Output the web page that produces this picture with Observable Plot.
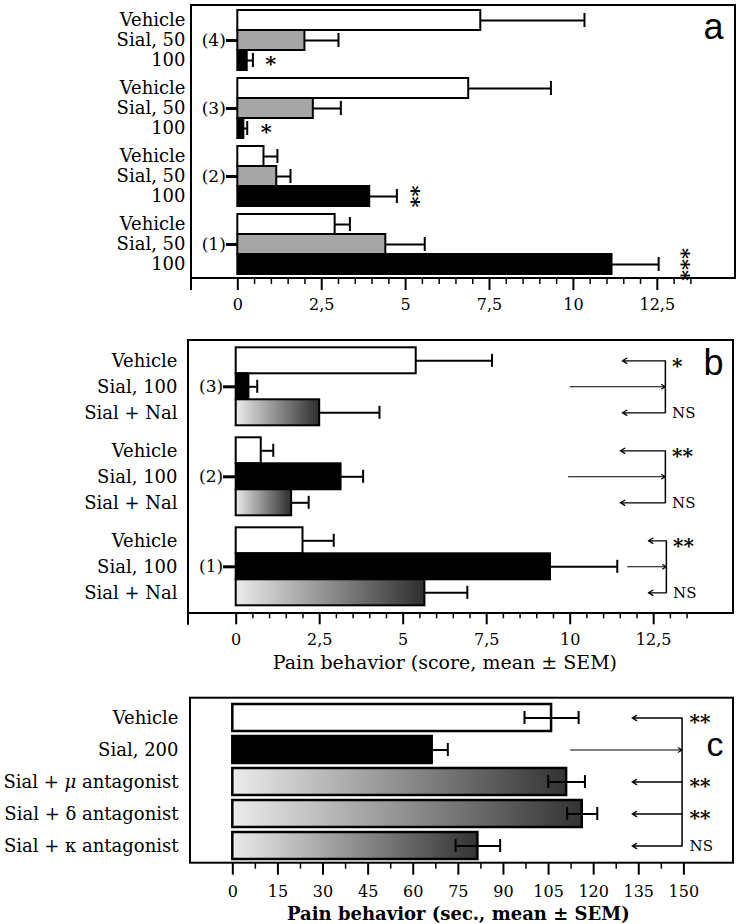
<!DOCTYPE html>
<html><head><meta charset="utf-8">
<script src="https://cdn.jsdelivr.net/npm/d3@7"></script>
<script src="https://cdn.jsdelivr.net/npm/@observablehq/plot@0.6"></script>
<style>
body{margin:0;background:#fff;}
#root{position:relative;width:740px;height:924px;overflow:hidden;}
#root svg{position:absolute;left:0;}
</style></head><body><div id="root"></div>
<script>
// ---------- Panel a ----------
const groupsA = ["(4)", "(3)", "(2)", "(1)"];
const rowsA = ["Vehicle", "Sial, 50", "100"];
const aVehicleMean = [7.24, 6.88, 0.78, 2.90];
const aVehicleSem  = [3.09, 2.45, 0.40, 0.44];
const aSial50Mean  = [2.00, 2.25, 1.16, 4.41];
const aSial50Sem   = [1.00, 0.82, 0.41, 1.16];
const aSial100Mean = [0.28, 0.18, 3.93, 11.15];
const aSial100Sem  = [0.17, 0.10, 0.81, 1.39];
const aStars = ["*", "*", "**", "***"];
const aStarX = [0.98, 0.85, 5.36, 13.4];
const aTicks = [0, 2.5, 5, 7.5, 10, 12.5];

// ---------- Panel b ----------
const groupsB = ["(3)", "(2)", "(1)"];
const rowsB = ["Vehicle", "Sial, 100", "Sial + Nal"];
const bVehicleMean = [5.39, 0.75, 2.00];
const bVehicleSem  = [2.27, 0.36, 0.92];
const bSialMean    = [0.38, 3.14, 9.41];
const bSialSem     = [0.25, 0.66, 2.00];
const bNalMean     = [2.50, 1.66, 5.65];
const bNalSem      = [1.79, 0.51, 1.27];
const bSigTop = ["*", "**", "**"];
const bSigBottom = ["NS", "NS", "NS"];
const bBracketX = [12.85, 12.85, 12.88];
const bLeftTipX = [11.56, 11.50, 12.34];
const bRightFromX = [10.0, 9.95, 11.72];
const bTicks = [0, 2.5, 5, 7.5, 10, 12.5];

// ---------- Panel c ----------
const rowsC = ["Vehicle", "Sial, 200", "Sial + μ antagonist", "Sial + δ antagonist", "Sial + κ antagonist"];
const cMean = [106, 66.3, 111, 116.2, 81.5];
const cSem  = [9, 5.2, 6.1, 5, 7.4];
const cSig  = ["**", "", "**", "**", "NS"];
const cBracketX = 149.4;
const cLeftTipX = 132.8;
const cRightFromX = 112.3;
const cTicks = [0, 15, 30, 45, 60, 75, 90, 105, 120, 135, 150];

const FONT = "DejaVu Serif";
const comma = d => String(d).replace(".", ",");
const root = document.getElementById("root");

function addGradient(svg, id, c0, c1) {
  const defs = d3.select(svg).insert("defs", ":first-child");
  const g = defs.append("linearGradient").attr("id", id)
    .attr("x1", 0).attr("x2", 1).attr("y1", 0).attr("y2", 0);
  g.append("stop").attr("offset", 0).attr("stop-color", c0);
  g.append("stop").attr("offset", 1).attr("stop-color", c1);
}
function addFrame(svg, x, y, w, h) {
  d3.select(svg).append("rect").attr("x", x).attr("y", y).attr("width", w).attr("height", h)
    .attr("fill", "none").attr("stroke", "black").attr("stroke-width", 2);
}

// ===== Build panel a =====
{
  const data = [];
  groupsA.forEach((g, i) => {
    data.push({group: g, row: rowsA[0], kind: 0, mean: aVehicleMean[i], sem: aVehicleSem[i]});
    data.push({group: g, row: rowsA[1], kind: 1, mean: aSial50Mean[i], sem: aSial50Sem[i]});
    data.push({group: g, row: rowsA[2], kind: 2, mean: aSial100Mean[i], sem: aSial100Sem[i]});
  });
  const stars = groupsA.map((g, i) => ({group: g, s: aStars[i], x: aStarX[i], rot: aStars[i].length > 1}));
  const minor = d3.range(0.5, 13.6, 0.5).filter(v => !aTicks.includes(v));
  const H = 320, mT = 10, mB = 46, mL = 191, mR = 5;
  const svg = Plot.plot({
    width: 740, height: H, marginLeft: mL, marginRight: mR, marginTop: mT, marginBottom: mB,
    style: {fontFamily: FONT, fontSize: "18px", color: "black", background: "white"},
    x: {domain: [-1.38, 14.83], label: null},
    y: {domain: rowsA, padding: 0, tickSize: 0, tickPadding: 6, label: null},
    fy: {domain: groupsA, paddingInner: 8 / 68, paddingOuter: 0, axis: null, label: null},
    marks: [
      Plot.barX(data.filter(d => d.kind === 0), {x: "mean", y: "row", fy: "group", fill: "white", stroke: "black", strokeWidth: 2}),
      Plot.barX(data.filter(d => d.kind === 1), {x: "mean", y: "row", fy: "group", fill: "#a6a6a6", stroke: "black", strokeWidth: 2}),
      Plot.barX(data.filter(d => d.kind === 2), {x: "mean", y: "row", fy: "group", fill: "black", stroke: "black", strokeWidth: 2}),
      Plot.ruleY(data, {y: "row", fy: "group", x1: "mean", x2: d => d.mean + d.sem, strokeWidth: 2}),
      Plot.tickX(data, {x: d => d.mean + d.sem, y: "row", fy: "group", insetTop: 3, insetBottom: 3, strokeWidth: 2}),
      Plot.ruleY(groupsA, {fy: d => d, y: () => rowsA[1], x1: -0.34, x2: 0, strokeWidth: 3}),
      Plot.text(groupsA, {fy: d => d, y: () => rowsA[1], x: 0, text: d => d, textAnchor: "end", dx: -12, fontSize: 17}),
      Plot.text(stars.filter(d => !d.rot), {fy: "group", y: () => rowsA[2], x: "x", text: "s", fontSize: 21, fontWeight: "bold", dy: 4}),
      Plot.text(stars.filter(d => d.rot), {fy: "group", y: () => rowsA[2], x: "x", text: "s", fontSize: 21, fontWeight: "bold", rotate: 90, dx: -6}),
      Plot.text(["a"], {fy: () => groupsA[0], frameAnchor: "top-right", text: d => d, fontFamily: "Liberation Sans", fontSize: 36, textAnchor: "end", lineAnchor: "middle", dx: -12, dy: 17}),
      Plot.axisX({ticks: aTicks, tickSize: 12, tickFormat: comma, tickPadding: 8, dy: 4, fontSize: 16, strokeWidth: 2}),
      Plot.axisX({ticks: minor, tickSize: 6, tickFormat: () => "", dy: 4, strokeWidth: 1.5})
    ]
  });
  svg.style.top = "0px";
  root.appendChild(svg);
  addFrame(svg, mL, mT - 5, 740 - mL - mR, H - mT - mB + 9);
  d3.select(svg).append("line").attr("x1", mL).attr("x2", mL).attr("y1", H - mB + 4).attr("y2", H - mB + 16).attr("stroke", "black").attr("stroke-width", 2);
}

// ===== Build panel b =====
{
  const data = [];
  groupsB.forEach((g, i) => {
    data.push({group: g, row: rowsB[0], kind: 0, mean: bVehicleMean[i], sem: bVehicleSem[i]});
    data.push({group: g, row: rowsB[1], kind: 1, mean: bSialMean[i], sem: bSialSem[i]});
    data.push({group: g, row: rowsB[2], kind: 2, mean: bNalMean[i], sem: bNalSem[i]});
  });
  const ann = groupsB.map((g, i) => ({group: g, bx: bBracketX[i], lt: bLeftTipX[i], rf: bRightFromX[i], top: bSigTop[i], bot: bSigBottom[i]}));
  const minor = d3.range(0.5, 13.6, 0.5).filter(v => !bTicks.includes(v));
  const H = 345, mT = 16.7, mB = 68.3, mL = 188, mR = 7;
  const svg = Plot.plot({
    width: 740, height: H, marginLeft: mL, marginRight: mR, marginTop: mT, marginBottom: mB,
    style: {fontFamily: FONT, fontSize: "18px", color: "black", background: "white"},
    x: {domain: [-1.428, 14.89], label: null},
    y: {domain: rowsB, padding: 0, tickSize: 0, tickPadding: 11, label: null},
    fy: {domain: groupsB, paddingInner: 0.1176, paddingOuter: 0, axis: null, label: null},
    marks: [
      Plot.barX(data.filter(d => d.kind === 0), {x: "mean", y: "row", fy: "group", fill: "white", stroke: "black", strokeWidth: 2}),
      Plot.barX(data.filter(d => d.kind === 1), {x: "mean", y: "row", fy: "group", fill: "black", stroke: "black", strokeWidth: 2}),
      Plot.barX(data.filter(d => d.kind === 2), {x: "mean", y: "row", fy: "group", fill: "url(#gradB)", stroke: "black", strokeWidth: 2}),
      Plot.ruleY(data, {y: "row", fy: "group", x1: "mean", x2: d => d.mean + d.sem, strokeWidth: 2}),
      Plot.tickX(data, {x: d => d.mean + d.sem, y: "row", fy: "group", insetTop: 6.5, insetBottom: 6.5, strokeWidth: 2}),
      Plot.ruleY(groupsB, {fy: d => d, y: () => rowsB[1], x1: -0.38, x2: 0, strokeWidth: 3}),
      Plot.text(groupsB, {fy: d => d, y: () => rowsB[1], x: 0, text: d => d, textAnchor: "end", dx: -13, fontSize: 17}),
      Plot.link(ann, {fy: "group", x1: "bx", x2: "bx", y1: () => rowsB[0], y2: () => rowsB[2], strokeWidth: 1.5}),
      Plot.arrow(ann, {fy: "group", x1: "bx", x2: "lt", y1: () => rowsB[0], y2: () => rowsB[0], strokeWidth: 1.3, headLength: 6}),
      Plot.arrow(ann, {fy: "group", x1: "bx", x2: "lt", y1: () => rowsB[2], y2: () => rowsB[2], strokeWidth: 1.3, headLength: 6}),
      Plot.arrow(ann, {fy: "group", x1: "rf", x2: "bx", y1: () => rowsB[1], y2: () => rowsB[1], strokeWidth: 1.1, headLength: 6}),
      Plot.text(ann, {fy: "group", x: d => d.bx + 0.2, y: () => rowsB[0], text: "top", textAnchor: "start", fontSize: 20, fontWeight: "bold", dy: 6}),
      Plot.text(ann, {fy: "group", x: d => d.bx + 0.2, y: () => rowsB[2], text: "bot", textAnchor: "start", fontSize: 15}),
      Plot.text(["b"], {fy: () => groupsB[0], frameAnchor: "top-right", text: d => d, fontFamily: "Liberation Sans", fontSize: 36, textAnchor: "end", lineAnchor: "middle", dx: -10, dy: 16}),
      Plot.axisX({ticks: bTicks, tickSize: 12, tickFormat: comma, tickPadding: 9, dy: 6.3, fontSize: 16, strokeWidth: 2}),
      Plot.axisX({ticks: minor, tickSize: 6, tickFormat: () => "", dy: 6.3, strokeWidth: 1.5}),
      Plot.text(["Pain behavior (score, mean ± SEM)"], {fy: () => groupsB[2], x: () => 6.25, frameAnchor: "bottom", text: d => d, fontSize: 19, dy: 62})
    ]
  });
  svg.style.top = "330px";
  root.appendChild(svg);
  addGradient(svg, "gradB", "#ebebeb", "#2e2e2e");
  addFrame(svg, mL, mT - 6.7, 740 - mL - mR, H - mT - mB + 13);
  d3.select(svg).append("line").attr("x1", mL).attr("x2", mL).attr("y1", H - mB + 6).attr("y2", H - mB + 18).attr("stroke", "black").attr("stroke-width", 2);
}

// ===== Build panel c =====
{
  const data = rowsC.map((r, i) => ({row: r, kind: i === 0 ? 0 : i === 1 ? 1 : 2, mean: cMean[i], sem: cSem[i], sig: cSig[i]}));
  const minor = cTicks.slice(0, -1).map(v => v + 7.5);
  const H = 249, mT = 26.7, mB = 63, mL = 190, mR = 7;
  const svg = Plot.plot({
    width: 740, height: H, marginLeft: mL, marginRight: mR, marginTop: mT, marginBottom: mB,
    style: {fontFamily: FONT, fontSize: "18px", color: "black", background: "white"},
    x: {domain: [-14.07, 166.5], label: null},
    y: {domain: rowsC, paddingInner: 0.145, paddingOuter: 0, tickSize: 0, tickPadding: 12, label: null},
    marks: [
      Plot.barX(data.filter(d => d.kind === 0), {x: "mean", y: "row", fill: "white", stroke: "black", strokeWidth: 2.5}),
      Plot.barX(data.filter(d => d.kind === 1), {x: "mean", y: "row", fill: "black", stroke: "black", strokeWidth: 2.5}),
      Plot.barX(data.filter(d => d.kind === 2), {x: "mean", y: "row", fill: "url(#gradC)", stroke: "black", strokeWidth: 2.5}),
      Plot.ruleY(data, {y: "row", x1: d => d.mean - d.sem, x2: d => d.mean + d.sem, strokeWidth: 2}),
      Plot.tickX(data, {x: d => d.mean + d.sem, y: "row", insetTop: 7, insetBottom: 7, strokeWidth: 2}),
      Plot.tickX(data, {x: d => d.mean - d.sem, y: "row", insetTop: 7, insetBottom: 7, strokeWidth: 2}),
      Plot.link([cBracketX], {x1: d => d, x2: d => d, y1: () => rowsC[0], y2: () => rowsC[4], strokeWidth: 1.5}),
      Plot.arrow(data.filter(d => d.kind !== 1), {x1: () => cBracketX, x2: () => cLeftTipX, y1: "row", y2: "row", strokeWidth: 1.3, headLength: 6}),
      Plot.arrow(data.filter(d => d.kind === 1), {x1: () => cRightFromX, x2: () => cBracketX, y1: "row", y2: "row", strokeWidth: 1.1, headLength: 6}),
      Plot.text(data.filter(d => d.sig && d.sig !== "NS"), {x: () => 151.9, y: "row", text: "sig", textAnchor: "start", fontSize: 20, fontWeight: "bold", dy: 5}),
      Plot.text(data.filter(d => d.sig === "NS"), {x: () => 151.9, y: "row", text: "sig", textAnchor: "start", fontSize: 15}),
      Plot.text(["c"], {frameAnchor: "top-right", text: d => d, fontFamily: "Liberation Sans", fontSize: 34, textAnchor: "end", lineAnchor: "middle", dx: -10, dy: 43}),
      Plot.axisX({ticks: cTicks, tickSize: 12, tickFormat: d => d, tickPadding: 10, dy: 1.7, fontSize: 16, strokeWidth: 2}),
      Plot.axisX({ticks: minor, tickSize: 6, tickFormat: () => "", dy: 1.7, strokeWidth: 1.5}),
      Plot.text(["Pain behavior (sec., mean ± SEM)"], {x: () => 75, frameAnchor: "bottom", text: d => d, fontSize: 18, fontWeight: "bold", dy: 58})
    ]
  });
  svg.style.top = "675px";
  root.appendChild(svg);
  addGradient(svg, "gradC", "#ebebeb", "#333333");
  addFrame(svg, mL, mT - 4, 740 - mL - mR, H - mT - mB + 5.7);
  d3.select(svg).selectAll("text").each(function () {
    const t = this.textContent;
    if (t.includes("μ") && !this.querySelector("tspan")) {
      const parts = t.split("μ");
      this.textContent = "";
      const s = d3.select(this);
      s.append("tspan").text(parts[0]);
      s.append("tspan").attr("font-style", "italic").text("μ");
      s.append("tspan").text(parts[1]);
    }
  });
}
</script></body></html>
